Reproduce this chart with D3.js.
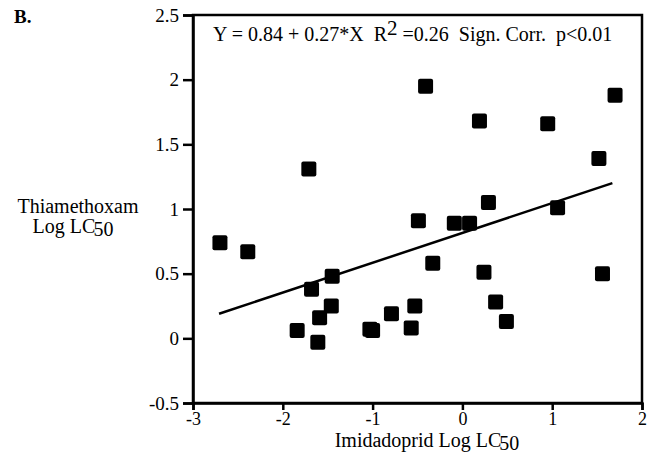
<!DOCTYPE html>
<html>
<head>
<meta charset="utf-8">
<script src="https://cdn.jsdelivr.net/npm/d3@7"></script>
<style>
  body { margin: 0; background: #fff; }
  text { font-family: "Liberation Serif", "Times New Roman", serif; fill: #000; white-space: pre; }
</style>
</head>
<body>
<div id="chart"></div>
<script>
// Imidacloprid vs thiamethoxam log LC50 values.
var imidaclopridLog = [-1.71, -0.41, 1.70, 0.19, 0.95, 1.52,
  -2.70, -2.39, -1.68, -1.45, -1.46, -1.59, -1.84, -1.61, -1.03, -1.00, -0.79,
  -0.49, -0.09, 0.08, 0.29, 1.06, -0.33, 0.24, 1.56, -0.53, -0.57, 0.37, 0.49];
var thiamethoxamLog = [1.31, 1.95, 1.88, 1.68, 1.66, 1.39,
  0.74, 0.67, 0.38, 0.48, 0.25, 0.16, 0.06, -0.03, 0.07, 0.06, 0.19,
  0.91, 0.89, 0.89, 1.05, 1.01, 0.58, 0.51, 0.50, 0.25, 0.08, 0.28, 0.13];

// End points of the regression line as drawn.
var fitX = [-2.71, 1.67];
var fitY = [0.19, 1.20];

var xTicks = [-3, -2, -1, 0, 1, 2];
var yTicks = [-0.5, 0, 0.5, 1, 1.5, 2, 2.5];

var width = 663,
  height = 456,
  margin = {top: 15, right: 21, bottom: 53, left: 193};

var svg = d3.select("#chart")
  .append("svg")
  .attr("width", width)
  .attr("height", height);

var x = d3.scaleLinear()
  .domain([-3, 2])
  .range([margin.left, width - margin.right]);

var y = d3.scaleLinear()
  .domain([-0.5, 2.5])
  .range([height - margin.bottom, margin.top]);

// Frame around the plot area.
svg.append("rect")
  .attr("x", x(-3))
  .attr("y", y(2.5))
  .attr("width", x(2) - x(-3))
  .attr("height", y(-0.5) - y(2.5))
  .attr("fill", "none")
  .attr("stroke", "#000")
  .attr("stroke-width", 2.5);

// Axes (plain hyphen for negatives, like the original).
var xAxis = svg.append("g")
  .attr("transform", "translate(0," + y(-0.5) + ")")
  .call(d3.axisBottom(x).tickValues(xTicks).tickSize(7).tickPadding(3)
    .tickFormat(function (d) { return String(d); }));

var yAxis = svg.append("g")
  .attr("transform", "translate(" + x(-3) + ",0)")
  .call(d3.axisLeft(y).tickValues(yTicks).tickSize(10).tickPadding(4)
    .tickFormat(function (d) { return String(d); }));

[xAxis, yAxis].forEach(function (g) {
  g.attr("font-family", null).attr("font-size", null);
  g.select(".domain").attr("stroke-width", 2.5);
  g.selectAll(".tick line").attr("stroke-width", 2.5);
  g.selectAll(".tick text")
    .style("font-family", "'Liberation Serif', serif")
    .style("font-size", "19px")
    .attr("fill", "#000");
});

// Put the x tick baselines just above the axis title.
xAxis.selectAll(".tick text")
  .style("font-size", "18px")
  .attr("dy", null)
  .attr("y", 22);

// Regression line.
svg.append("line")
  .attr("x1", x(fitX[0]))
  .attr("y1", y(fitY[0]))
  .attr("x2", x(fitX[1]))
  .attr("y2", y(fitY[1]))
  .attr("stroke", "#000")
  .attr("stroke-width", 2.5);

// Square markers.
var points = imidaclopridLog.map(function (d, i) {
  return {x: d, y: thiamethoxamLog[i]};
});

svg.selectAll("rect.pt")
  .data(points)
  .enter()
  .append("rect")
  .attr("class", "pt")
  .attr("x", function (d) { return x(d.x) - 7.5; })
  .attr("y", function (d) { return y(d.y) - 7.5; })
  .attr("width", 15)
  .attr("height", 15)
  .attr("rx", 2)
  .attr("fill", "#000");

// Equation text.
var eq = svg.append("text")
  .attr("x", 213)
  .attr("y", 41)
  .style("font-size", "20px");
eq.append("tspan").text("Y = 0.84 + 0.27*X  R");
eq.append("tspan").attr("dy", -6).attr("font-size", "21px").text("2");
eq.append("tspan").attr("dy", 6).text(" =0.26  Sign. Corr.  p<0.01");

// Panel letter.
svg.append("text")
  .attr("x", 14)
  .attr("y", 23)
  .style("font-size", "19px")
  .style("font-weight", "bold")
  .text("B.");

// Y axis title.
svg.append("text")
  .attr("x", 78)
  .attr("y", 213)
  .attr("text-anchor", "middle")
  .style("font-size", "20px")
  .text("Thiamethoxam");

var yl = svg.append("text")
  .attr("x", 73)
  .attr("y", 233)
  .attr("text-anchor", "middle")
  .style("font-size", "20px");
yl.append("tspan").text("Log LC");
yl.append("tspan").attr("dy", 3).attr("dx", -2).text("50");

// X axis title.
var xl = svg.append("text")
  .attr("x", 427)
  .attr("y", 447)
  .attr("text-anchor", "middle")
  .style("font-size", "20px");
xl.append("tspan").text("Imidadoprid Log LC");
xl.append("tspan").attr("dy", 3).attr("dx", -2).text("50");
</script>
</body>
</html>
